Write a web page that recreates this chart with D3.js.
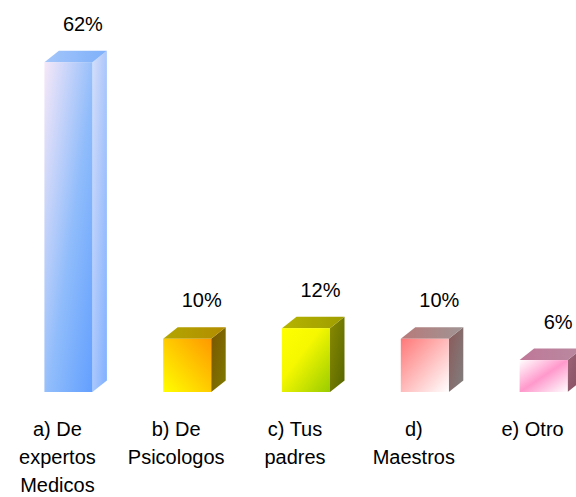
<!DOCTYPE html>
<html>
<head>
<meta charset="utf-8">
<script src="https://cdn.jsdelivr.net/npm/d3@7"></script>
<style>
  html, body { margin: 0; padding: 0; background: #fff; }
  svg { display: block; }
  text { font-family: "Liberation Sans", Arial, sans-serif; fill: #000; }
</style>
</head>
<body>
<svg id="chart" width="576" height="497"></svg>
<script>
// Survey answers: share of responses per source (percent)
const categories = ["a) De expertos Medicos", "b) De Psicologos", "c) Tus padres", "d) Maestros", "e) Otro"];
const labelLines = [["a) De", "expertos", "Medicos"], ["b) De", "Psicologos"], ["c) Tus", "padres"], ["d)", "Maestros"], ["e) Otro"]];
const values = [62, 10, 12, 10, 6];
const valueLabels = ["62%", "10%", "12%", "10%", "6%"];

// Face shading for each box: front gradient stops, side stops, top stops
const palette = [
  { front: [["0%", "#f6e8f8"], ["55%", "#8fbcfb"], ["100%", "#629fff"]], fdir: [0, 0, 1, 1],
    side: ["#d6def8", "#7eb0ff"], top: ["#a4c6fa", "#7eb0fa"] },
  { front: [["0%", "#ffff00"], ["100%", "#ff9900"]], fdir: [0, 1, 1, 0],
    side: ["#7a5600", "#7f7a00"], top: ["#b2a600", "#b38c00"] },
  { front: [["0%", "#ffff00"], ["40%", "#f6f800"], ["100%", "#99cc00"]], fdir: [0, 0, 1, 1],
    side: ["#8a8a00", "#556600"], top: ["#b5b300", "#9f9d00"] },
  { front: [["0%", "#ff7878"], ["100%", "#ffffff"]], fdir: [0, 0, 1, 1],
    side: ["#8b5a5a", "#808080"], top: ["#b87a7a", "#a09494"] },
  { front: [["0%", "#ffffff"], ["50%", "#ff99cc"], ["100%", "#ffffff"]], fdir: [0, 0, 1, 1],
    side: ["#a06478", "#805060"], top: ["#c07898", "#b88aa0"] }
];

const svg = d3.select("#chart");
const depthX = 14.5, depthY = -11.5, barW = 48, barShift = 11;
const fontSize = 20;

const x = d3.scaleBand().domain(categories).range([-2, 592]).padding(0);
const y = d3.scaleLinear().domain([0, 70]).range([392, 19.6]);

const defs = svg.append("defs");
palette.forEach((p, i) => {
  const fg = defs.append("linearGradient").attr("id", "front" + i)
    .attr("x1", p.fdir[0]).attr("y1", p.fdir[1]).attr("x2", p.fdir[2]).attr("y2", p.fdir[3]);
  p.front.forEach(s => fg.append("stop").attr("offset", s[0]).attr("stop-color", s[1]));
  const sg = defs.append("linearGradient").attr("id", "side" + i)
    .attr("x1", 0).attr("y1", 0).attr("x2", 1).attr("y2", 1);
  sg.append("stop").attr("offset", "0%").attr("stop-color", p.side[0]);
  sg.append("stop").attr("offset", "100%").attr("stop-color", p.side[1]);
  const tg = defs.append("linearGradient").attr("id", "top" + i)
    .attr("x1", 0).attr("y1", 0).attr("x2", 1).attr("y2", 0);
  tg.append("stop").attr("offset", "0%").attr("stop-color", p.top[0]);
  tg.append("stop").attr("offset", "100%").attr("stop-color", p.top[1]);
});

const data = categories.map((c, i) => ({ c, i, v: values[i], label: valueLabels[i], lines: labelLines[i] }));

const bars = svg.append("g").selectAll("g").data(data).join("g");

bars.each(function (d) {
  const g = d3.select(this);
  const cx = x(d.c) + x.bandwidth() / 2 + barShift;
  const x0 = cx - barW / 2, x1 = cx + barW / 2;
  const yt = y(d.v), yb = y(0);
  // right side face
  g.append("path")
    .attr("d", `M${x1},${yt} L${x1 + depthX},${yt + depthY} L${x1 + depthX},${yb + depthY} L${x1},${yb} Z`)
    .attr("fill", `url(#side${d.i})`);
  // top face
  g.append("path")
    .attr("d", `M${x0},${yt} L${x0 + depthX},${yt + depthY} L${x1 + depthX},${yt + depthY} L${x1},${yt} Z`)
    .attr("fill", `url(#top${d.i})`);
  // front face
  g.append("rect")
    .attr("x", x0).attr("y", yt).attr("width", barW).attr("height", yb - yt)
    .attr("fill", `url(#front${d.i})`);
  // value label
  g.append("text")
    .attr("x", cx + depthX).attr("y", yt + depthY - 20)
    .attr("text-anchor", "middle").attr("font-size", fontSize)
    .text(d.label);
});

// category labels under each box
const cats = svg.append("g").selectAll("text").data(data).join("text")
  .attr("text-anchor", "middle").attr("font-size", fontSize)
  .attr("transform", d => `translate(${x(d.c) + x.bandwidth() / 2},436)`);
cats.selectAll("tspan").data(d => d.lines).join("tspan")
  .attr("x", 0).attr("dy", (t, j) => j === 0 ? 0 : 28)
  .text(t => t);
</script>
</body>
</html>
